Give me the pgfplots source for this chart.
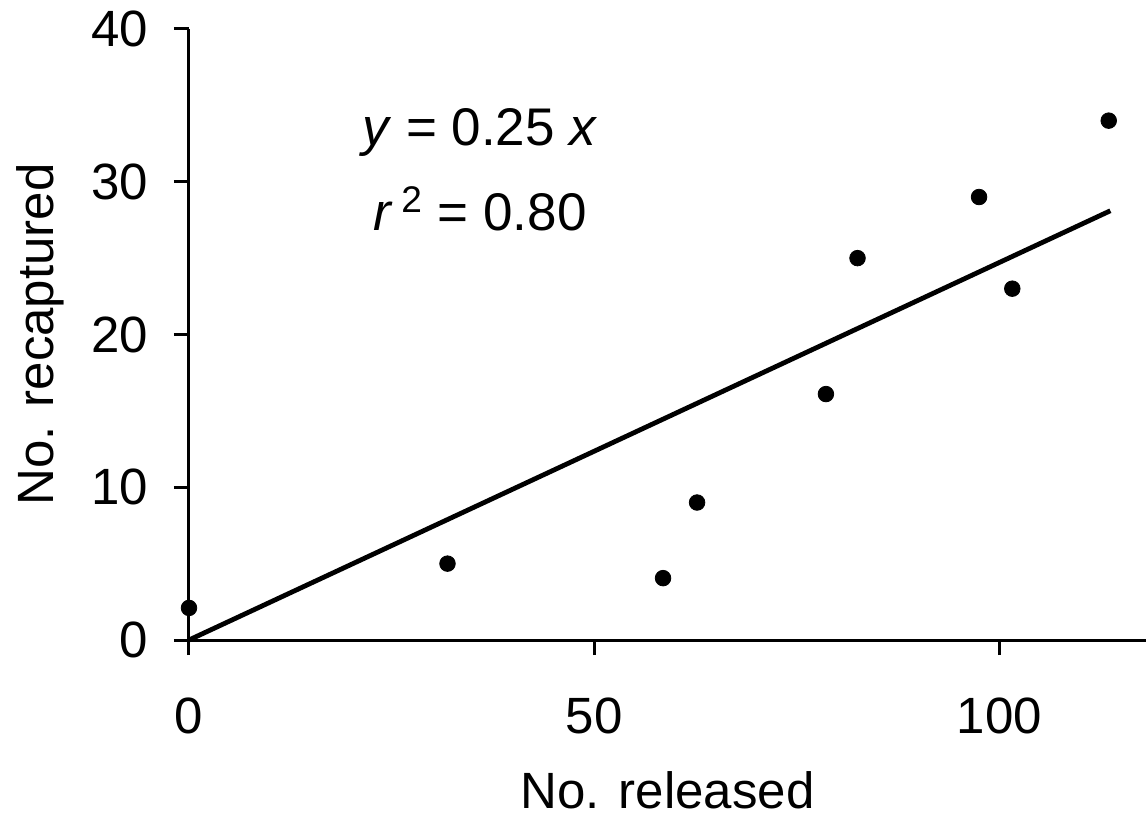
\documentclass[border=0pt]{standalone}
\usepackage{fontspec}
\setmainfont{Liberation Sans}
\usepackage{pgfplots}
\pgfplotsset{compat=1.18}
\begin{document}
\begin{tikzpicture}
\begin{axis}[
  scale only axis,
  width=478.5pt, height=305.5pt,
  xmin=0, xmax=118.1, ymin=0, ymax=40,
  axis lines=left,
  axis line style={-, line width=1.5pt},
  every tick/.style={line width=1.5pt, black},
  tick align=outside,
  major tick length=7.5pt,
  xtick={0,50,100}, ytick={0,10,20,30,40},
  /pgf/number format/assume math mode=true,
  tick label style={font=\fontsize{25.5}{30}\selectfont},
  label style={font=\fontsize{25.5}{30}\selectfont},
  xticklabel style={yshift=-18pt},
  yticklabel style={xshift=-9.5pt},
  xlabel={No. released},
  ylabel={No. recaptured},
  xlabel style={yshift=-12pt},
  ylabel style={yshift=6.5pt},
  clip=false,
]
\addplot[only marks, mark=*, mark size=3.9pt, black] coordinates {
(0,2.1) (31.9,5) (58.5,4.05) (62.7,9) (78.6,16.1) (82.5,25) (97.5,29) (101.6,23) (113.5,34)
};
\addplot[black, line width=2.4pt] coordinates {(0,0) (113.7,28.1)};
\node[font=\fontsize{26.5}{30}\selectfont] at (axis cs:35.9,33.2) {\textit{y} = 0.25 \textit{x}};
\node[font=\fontsize{26.5}{30}\selectfont] at (axis cs:35.9,28.2) {\textit{r}\,\textsuperscript{2} = 0.80};
\end{axis}
\pgfresetboundingbox
\path[use as bounding box] (-94.5pt,-89.5pt) rectangle (478.5pt,320pt);
\end{tikzpicture}
\end{document}
